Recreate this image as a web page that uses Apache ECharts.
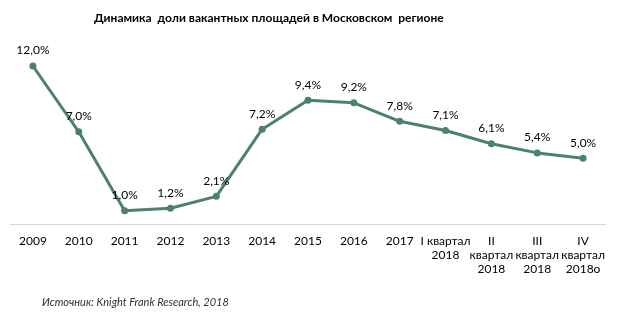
<!DOCTYPE html>
<html><head><meta charset="utf-8">
<script src="https://cdn.jsdelivr.net/npm/echarts@6/dist/echarts.min.js"></script>
<style>html,body{margin:0;padding:0;background:#fff}#c{width:618px;height:323px}</style>
</head><body><div id="c"></div>
<script>
var categories = ["2009","2010","2011","2012","2013","2014","2015","2016","2017","I квартал\n2018","II\nквартал\n2018","III\nквартал\n2018","IV\nквартал\n2018о"];
var values = [12.0, 7.0, 1.0, 1.2, 2.1, 7.2, 9.4, 9.2, 7.8, 7.1, 6.1, 5.4, 5.0];
var titleText = "Динамика  доли вакантных площадей в Московском  регионе";
var sourceText = "Источник: Knight Frank Research, 2018";

var chart = echarts.init(document.getElementById('c'));
chart.setOption({
  animation: false,
  backgroundColor: '#fff',
  title: [{
    text: titleText, left: 89, top: 7,
    textStyle: {fontFamily: 'Lato', fontWeight: 'bold', fontSize: 12, color: '#000'}
  }],
  graphic: [{
    type: 'text', left: 42, top: 297,
    style: {text: sourceText, font: 'italic 11px Lato', fill: '#333'}
  }],
  grid: {left: 10, right: 12, top: 66, bottom: 99, containLabel: false},
  xAxis: {
    type: 'category', data: categories, boundaryGap: true,
    axisLine: {lineStyle: {color: '#d9d9d9', width: 1}},
    axisTick: {show: false},
    axisLabel: {interval: 0, color: '#000', fontFamily: 'Lato', fontSize: 12, lineHeight: 14, margin: 10}
  },
  yAxis: {
    type: 'value', min: 0, max: 12, show: false,
    splitLine: {show: false}
  },
  series: [{
    type: 'line', data: values,
    symbol: 'circle', symbolSize: 7,
    lineStyle: {color: '#4c8170', width: 3},
    itemStyle: {color: '#4c8170'},
    label: {
      show: true, position: 'top', distance: 6,
      color: '#000', fontFamily: 'Lato', fontSize: 12,
      formatter: function (p) { return p.value.toFixed(1).replace('.', ',') + '%'; }
    }
  }]
});
</script></body></html>
